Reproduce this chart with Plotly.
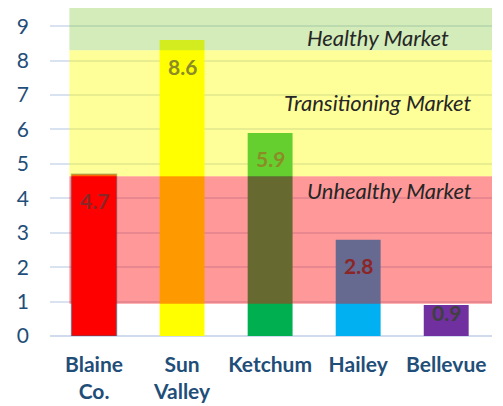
import plotly.graph_objects as go

# data
areas = ["Blaine<br>Co.", "Sun<br>Valley", "Ketchum", "Hailey", "Bellevue"]
values = [4.7, 8.6, 5.9, 2.8, 0.9]
bar_colors = ["#FF0000", "#FFFF00", "#00B050", "#00B0F0", "#7030A0"]

# market zones (lower bound, upper bound, label)
zone_names = ["Unhealthy Market", "Transitioning Market", "Healthy Market"]
zone_low = [0.94, 4.64, 8.3]
zone_high = [4.64, 8.3, 9.53]
zone_rgb = [(255, 0, 0), (255, 255, 0), (146, 208, 80)]
zone_label_x = [3.36, 3.23, 3.23]
zone_label_y = [4.24, 6.77, 8.68]

ALPHA = 0.4
BLUE = "#1F4E79"
FONT = "Lato"
Y_TOP = 9.53
PLOT_H = 328
PX_PER_UNIT = PLOT_H / Y_TOP


def tint(base, y):
    # colour of something drawn under the translucent zone at height y
    for lo, hi, rgb in zip(zone_low, zone_high, zone_rgb):
        if lo <= y < hi:
            r, g, b = (round(c * (1 - ALPHA) + z * ALPHA) for c, z in zip(base, rgb))
            return f"rgb({r},{g},{b})"
    return "rgb(%d,%d,%d)" % base


fig = go.Figure()
fig.add_trace(go.Bar(
    x=list(range(len(areas))), y=values,
    marker=dict(color=bar_colors,
                line=dict(color=["rgba(80,80,110,0.6)"] + ["rgba(0,0,0,0)"] * 4, width=1.5)),
    width=0.51, hoverinfo="skip",
))

# value labels, tinted like they sit under the zones
for i, v in enumerate(values):
    shift = -26 if v > 1.5 else -7
    fig.add_annotation(x=i, y=v, yshift=shift, text="<b>%s</b>" % v, showarrow=False,
                       font=dict(family=FONT, size=21, color=tint((64, 64, 64), v + shift / PX_PER_UNIT)))

for lo, hi, (r, g, b), name, lx, ly in zip(zone_low, zone_high, zone_rgb, zone_names,
                                             zone_label_x, zone_label_y):
    fig.add_shape(type="rect", xref="x", yref="y", x0=-0.28, x1=4.52, y0=lo, y1=hi,
                  fillcolor=f"rgba({r},{g},{b},{ALPHA})", line_width=0, layer="above")
    fig.add_annotation(x=lx, y=ly, text="<i>%s</i>" % name, showarrow=False,
                       font=dict(family=FONT, size=22, color="#262626"))

# the page adds an 8px body margin, so the figure is kept 8px smaller
fig.update_layout(
    width=495, height=398,
    margin=dict(l=42, r=11, t=0, b=70, autoexpand=False),
    plot_bgcolor="white", paper_bgcolor="white",
    showlegend=False,
)
fig.update_xaxes(
    tickmode="array", tickvals=list(range(len(areas))), ticktext=["<b>%s</b>" % a for a in areas],
    range=[-0.5, 4.52], showgrid=False, showline=False, ticks="", ticklabelstandoff=14,
    tickfont=dict(family=FONT, size=21, color=BLUE),
)
fig.update_yaxes(
    range=[0, Y_TOP], dtick=1, tick0=0,
    showgrid=True, gridcolor="#D9E2F1", gridwidth=1.5,
    zeroline=True, zerolinecolor="#D0DCEE", zerolinewidth=1.5,
    ticks="", ticklabelstandoff=20,
    tickfont=dict(family=FONT, size=21, color=BLUE),
)

fig.write_html("out.html")
